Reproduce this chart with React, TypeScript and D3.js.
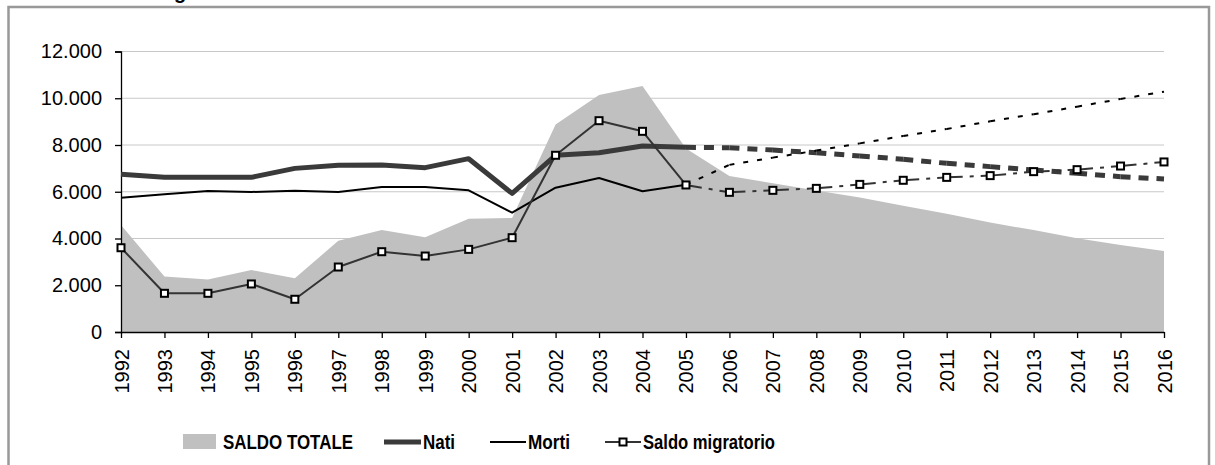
import { useEffect, useRef } from 'react';
import * as d3 from 'd3';

const YEARS = [
  '1992', '1993', '1994', '1995', '1996', '1997', '1998', '1999', '2000', '2001', '2002', '2003', '2004',
  '2005', '2006', '2007', '2008', '2009', '2010', '2011', '2012', '2013', '2014', '2015', '2016',
];
// last observed year, later values are projections
const LAST_OBSERVED = '2005';

const SALDO_TOTALE = [
  4580, 2370, 2250, 2650, 2300, 3900, 4360, 4050, 4850, 4880, 8880, 10140, 10520,
  7850, 6670, 6360, 6050, 5750, 5400, 5060, 4680, 4360, 4010, 3720, 3470,
];
const NATI = [
  6745, 6617, 6617, 6617, 7000, 7130, 7145, 7030, 7415, 5930, 7560, 7670, 7955,
  7900, 7885, 7785, 7670, 7530, 7390, 7215, 7075, 6930, 6790, 6645, 6545,
];
const MORTI = [
  5745, 5890, 6030, 5990, 6045, 5990, 6200, 6200, 6060, 5105, 6175, 6590, 6020,
  6300, 7150, 7460, 7760, 8070, 8385, 8685, 9015, 9315, 9640, 9970, 10280,
];
const SALDO_MIGRATORIO = [
  3605, 1655, 1655, 2055, 1400, 2780, 3435, 3250, 3535, 4035, 7560, 9040, 8585,
  6290, 5975, 6060, 6145, 6315, 6490, 6615, 6690, 6860, 6945, 7100, 7275,
];
const Y_TICKS = [0, 2000, 4000, 6000, 8000, 10000, 12000];

const W = 1215;
const H = 465;
const FONT = '"Liberation Sans", Arial, sans-serif';

export default function App() {
  const svgRef = useRef<SVGSVGElement>(null);

  useEffect(() => {
    if (!svgRef.current) return;
    const svg = d3.select(svgRef.current);
    svg.selectAll('*').remove();

    const x = d3.scalePoint<string>().domain(YEARS).range([121, 1164]);
    const y = d3.scaleLinear().domain([0, 12000]).range([332, 51.5]);
    const fmt = d3.formatLocale({ decimal: ',', thousands: '.', grouping: [3], currency: ['', ''] }).format(',');

    const split = YEARS.indexOf(LAST_OBSERVED);
    const pts = (vals: number[]) => YEARS.map((yr, i) => ({ yr, v: vals[i], i }));

    // outer frame (bottom edge falls outside the picture)
    svg.append('rect')
      .attr('x', 8.5).attr('y', 7).attr('width', 1200.5).attr('height', 470)
      .attr('fill', 'white').attr('stroke', '#999').attr('stroke-width', 2.5);

    // tail of the clipped title
    svg.append('text')
      .attr('x', 174).attr('y', -1)
      .attr('font-family', FONT).attr('font-size', 20).attr('font-weight', 'bold')
      .text('g');

    // gridlines
    svg.append('g').selectAll('line')
      .data(Y_TICKS.filter(d => d > 0))
      .enter().append('line')
      .attr('x1', 121).attr('x2', 1164)
      .attr('y1', d => y(d)).attr('y2', d => y(d))
      .attr('stroke', '#c8c8c8').attr('stroke-width', 1);

    // SALDO TOTALE area
    const area = d3.area<{ yr: string; v: number }>()
      .x(d => x(d.yr)!)
      .y0(y(0))
      .y1(d => y(d.v));
    svg.append('path').attr('d', area(pts(SALDO_TOTALE))).attr('fill', '#c0c0c0');

    // axes
    const yAxis = d3.axisLeft(y).tickValues(Y_TICKS).tickSize(6).tickPadding(13).tickFormat(d => fmt(d as number));
    const gy = svg.append('g').attr('transform', 'translate(121,0)').call(yAxis);
    gy.select('.domain').attr('stroke', '#000').attr('stroke-width', 1.3);
    gy.selectAll('.tick line').attr('stroke', '#000').attr('stroke-width', 1.3);
    gy.selectAll('.tick text').attr('font-family', FONT).attr('font-size', 20).attr('fill', '#000');

    const xAxis = d3.axisBottom(x).tickSize(6).tickSizeOuter(0);
    const gx = svg.append('g').attr('transform', `translate(0,${y(0)})`).call(xAxis);
    gx.select('.domain').attr('stroke', '#000').attr('stroke-width', 1.3);
    gx.selectAll('.tick line').attr('stroke', '#000').attr('stroke-width', 1.3);
    gx.selectAll('.tick text')
      .attr('font-family', FONT).attr('font-size', 20).attr('fill', '#000')
      .attr('transform', 'rotate(-90)')
      .attr('text-anchor', 'end')
      .attr('x', -17).attr('y', 0).attr('dy', '0.35em');

    const line = d3.line<{ yr: string; v: number }>().x(d => x(d.yr)!).y(d => y(d.v));

    // draws the observed part solid and the projection with a dash pattern, one path per segment
    const drawSeries = (vals: number[], color: string, width: number, dash: string) => {
      const p = pts(vals);
      svg.append('path').attr('d', line(p.slice(0, split + 1)))
        .attr('fill', 'none').attr('stroke', color).attr('stroke-width', width)
        .attr('stroke-linejoin', 'round');
      for (let i = split; i < p.length - 1; i++) {
        svg.append('path').attr('d', line([p[i], p[i + 1]]))
          .attr('fill', 'none').attr('stroke', color).attr('stroke-width', width)
          .attr('stroke-dasharray', dash);
      }
    };

    drawSeries(NATI, '#3a3a3a', 5, '10,8');
    drawSeries(MORTI, '#000', 2, '5,9');
    drawSeries(SALDO_MIGRATORIO, '#333', 2, '16,7,4,7');

    svg.append('g').selectAll('rect')
      .data(pts(SALDO_MIGRATORIO))
      .enter().append('rect')
      .attr('x', d => x(d.yr)! - 3.5).attr('y', d => y(d.v) - 3.5)
      .attr('width', 7).attr('height', 7)
      .attr('fill', '#fff').attr('stroke', '#000').attr('stroke-width', 2);

    // legend
    const lg = svg.append('g').attr('font-family', FONT).attr('font-size', 20).attr('font-weight', 'bold');
    const ly = 442;
    lg.append('rect').attr('x', 183).attr('y', 434).attr('width', 33).attr('height', 15).attr('fill', '#c0c0c0');
    lg.append('line').attr('x1', 384).attr('x2', 421).attr('y1', ly).attr('y2', ly)
      .attr('stroke', '#3a3a3a').attr('stroke-width', 5);
    lg.append('line').attr('x1', 490).attr('x2', 526).attr('y1', ly).attr('y2', ly)
      .attr('stroke', '#000').attr('stroke-width', 2);
    lg.append('line').attr('x1', 605).attr('x2', 641).attr('y1', ly).attr('y2', ly)
      .attr('stroke', '#333').attr('stroke-width', 2);
    lg.append('rect').attr('x', 619.5).attr('y', ly - 3.5).attr('width', 7).attr('height', 7)
      .attr('fill', '#fff').attr('stroke', '#000').attr('stroke-width', 2);

    const labels: [string, number, number][] = [
      ['SALDO TOTALE', 223, 130],
      ['Nati', 423, 32],
      ['Morti', 528, 42],
      ['Saldo migratorio', 643, 132],
    ];
    labels.forEach(([t, lx, len]) => {
      lg.append('text').attr('x', lx).attr('y', ly).attr('dy', '0.36em')
        .attr('textLength', len).attr('lengthAdjust', 'spacingAndGlyphs')
        .text(t);
    });
  }, []);

  return (
    <svg
      ref={svgRef}
      width={W}
      height={H}
      style={{ position: 'absolute', left: 0, top: 0, background: '#fff' }}
    />
  );
}
